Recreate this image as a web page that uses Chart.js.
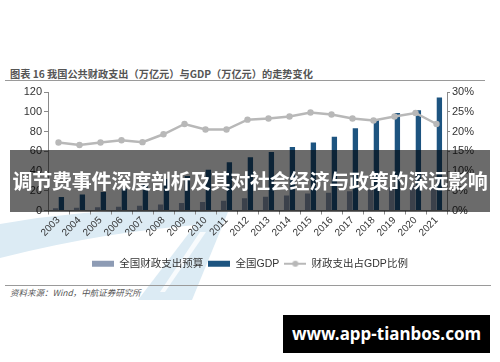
<!DOCTYPE html>
<html>
<head>
<meta charset="utf-8">
<script src="https://cdn.jsdelivr.net/npm/chart.js@4/dist/chart.umd.min.js"></script>
<style>
  html, body { margin: 0; padding: 0; }
  body { width: 500px; height: 362px; position: relative; overflow: hidden; background: #fff; font-family: 'Noto Sans CJK SC', sans-serif; }
  #bg { position: absolute; left: 0; top: 0; }
  .title { position: absolute; left: 10px; top: 66px; font-size: 10.2px; color: #555; font-weight: bold; white-space: nowrap; }
  .rule { position: absolute; height: 1px; background: #9a9a9a; }
  #wrap { position: absolute; left: 0; top: 80px; width: 500px; height: 200px; }
  .source { position: absolute; left: 10px; top: 286px; font-size: 8.5px; color: #555; font-style: italic; white-space: nowrap; }
  .banner { position: absolute; left: 10px; top: 150px; width: 480px; height: 62px; background: rgba(0,0,0,0.58);
    color: #fff; font-weight: bold; font-size: 20px; line-height: 62px; text-align: center; white-space: nowrap; letter-spacing: -0.2px; }
  .site { position: absolute; left: 283px; top: 315px; width: 207px; height: 38px; background: #000; color: #fff;
    font-family: 'Noto Sans', sans-serif; font-weight: bold; font-size: 17px; line-height: 38px; text-align: center; }
</style>
</head>
<body>
<svg id="bg" width="500" height="362">
  <path d="M0,224 Q110,204 222,212 L214,224 Q110,230 0,258 Z" fill="#dcebf4"/>
  <path d="M205,212 L228,212 L192,300 L138,300 Z" fill="#dcebf4"/>
  <path d="M200,232 L206,232 L165,292 L160,292 Z" fill="#ffffff" opacity="0.8"/>
</svg>
<div class="title">图表 16 我国公共财政支出（万亿元）与GDP（万亿元）的走势变化</div>
<div class="rule" style="left:5px; top:80px; width:480px;"></div>
<div id="wrap"><canvas id="chart" width="500" height="200"></canvas></div>
<div class="rule" style="left:5px; top:285px; width:486px;"></div>
<div class="source">资料来源：Wind，中航证券研究所</div>
<div class="banner">调节费事件深度剖析及其对社会经济与政策的深远影响</div>
<div class="site">www.app-tianbos.com</div>

<script>
const years = ['2003', '2004', '2005', '2006', '2007', '2008', '2009', '2010', '2011', '2012',
  '2013', '2014', '2015', '2016', '2017', '2018', '2019', '2020', '2021'];
const budget = [2.4, 2.7, 3.2, 3.9, 4.7, 6.2, 7.6, 8.5, 10.0, 12.4, 13.8, 15.3, 17.1, 18.1, 19.4, 20.9, 23.5, 25.0, 25.0];
const gdp = [13.7, 16.2, 18.7, 21.9, 27.0, 31.9, 34.9, 41.2, 48.8, 53.9, 59.3, 64.4, 68.9, 74.6, 83.2, 91.9, 98.7, 101.4, 114.4];
const ratio = [17.2, 16.6, 17.2, 17.8, 17.3, 19.3, 21.9, 20.5, 20.5, 23.0, 23.3, 23.8, 24.8, 24.3, 23.3, 22.8, 23.8, 24.7, 21.9];
const leftTicks = [0, 20, 40, 60, 80, 100, 120];
const rightTicks = [0, 5, 10, 15, 20, 25, 30];

const budgetColor = '#8d9bb4';
const gdpColor = '#1d5480';
const lineColor = '#b8b8b8';
const axisColor = '#8a8a8a';

// little legend icons: flat bars and a line with a dot
function makeIcon(color, isLine) {
  const c = document.createElement('canvas');
  c.width = 22;
  c.height = 8;
  const g = c.getContext('2d');
  if (isLine) {
    g.strokeStyle = color;
    g.lineWidth = 2;
    g.beginPath();
    g.moveTo(0, 4);
    g.lineTo(22, 4);
    g.stroke();
    g.fillStyle = color;
    g.beginPath();
    g.arc(11, 4, 3, 0, Math.PI * 2);
    g.fill();
  } else {
    g.fillStyle = color;
    g.fillRect(0, 1, 22, 6);
  }
  return c;
}
const icons = [makeIcon(budgetColor, false), makeIcon(gdpColor, false), makeIcon(lineColor, true)];

Chart.defaults.font.family = "'Liberation Sans', 'Noto Sans CJK SC', sans-serif";
Chart.defaults.color = '#333';

const ctx = document.getElementById('chart').getContext('2d');
new Chart(ctx, {
  type: 'bar',
  data: {
    labels: years,
    datasets: [{
      label: '全国财政支出预算',
      data: budget,
      backgroundColor: budgetColor,
      yAxisID: 'y',
      order: 1,
      barPercentage: 0.92,
      categoryPercentage: 0.55
    }, {
      label: '全国GDP',
      data: gdp,
      backgroundColor: gdpColor,
      yAxisID: 'y',
      order: 1,
      barPercentage: 0.92,
      categoryPercentage: 0.55
    }, {
      type: 'line',
      label: '财政支出占GDP比例',
      data: ratio,
      yAxisID: 'y1',
      order: 0,
      borderColor: lineColor,
      backgroundColor: lineColor,
      borderWidth: 2.5,
      pointRadius: 3.2,
      pointBackgroundColor: lineColor,
      pointBorderWidth: 0,
      tension: 0
    }]
  },
  options: {
    responsive: false,
    animation: false,
    layout: { padding: { top: 12, bottom: 1, left: 0, right: 0 } },
    plugins: {
      tooltip: { enabled: false },
      legend: {
        position: 'bottom',
        labels: {
          usePointStyle: true,
          pointStyleWidth: 22,
          padding: 5,
          font: { size: 10.5 },
          generateLabels: (chart) => chart.data.datasets.map((ds, i) => ({
            text: ds.label,
            pointStyle: icons[i],
            fillStyle: 'transparent',
            strokeStyle: 'transparent',
            lineWidth: 0,
            hidden: false,
            datasetIndex: i,
            fontColor: '#333'
          }))
        }
      }
    },
    scales: {
      x: {
        afterFit: (s) => { s.height = 43; },
        grid: { drawOnChartArea: false, tickLength: 4, color: axisColor },
        border: { color: axisColor },
        ticks: { autoSkip: false, minRotation: 45, maxRotation: 45, padding: 0, font: { size: 10 }, color: '#333' }
      },
      y: {
        position: 'left',
        min: 0,
        max: 120,
        afterFit: (s) => { s.width = 48; },
        afterBuildTicks: (s) => { s.ticks = leftTicks.map(v => ({ value: v })); },
        grid: { drawOnChartArea: false, tickLength: 4, color: axisColor },
        border: { color: axisColor },
        ticks: { padding: 2, font: { size: 11 }, color: '#333' }
      },
      y1: {
        position: 'right',
        min: 0,
        max: 30,
        afterFit: (s) => { s.width = 53; },
        afterBuildTicks: (s) => { s.ticks = rightTicks.map(v => ({ value: v })); },
        grid: { drawOnChartArea: false, tickLength: 3, color: axisColor },
        border: { color: axisColor },
        ticks: { padding: 2, font: { size: 11 }, color: '#333', callback: (v) => v + '%' }
      }
    }
  }
});
</script>
</body>
</html>
